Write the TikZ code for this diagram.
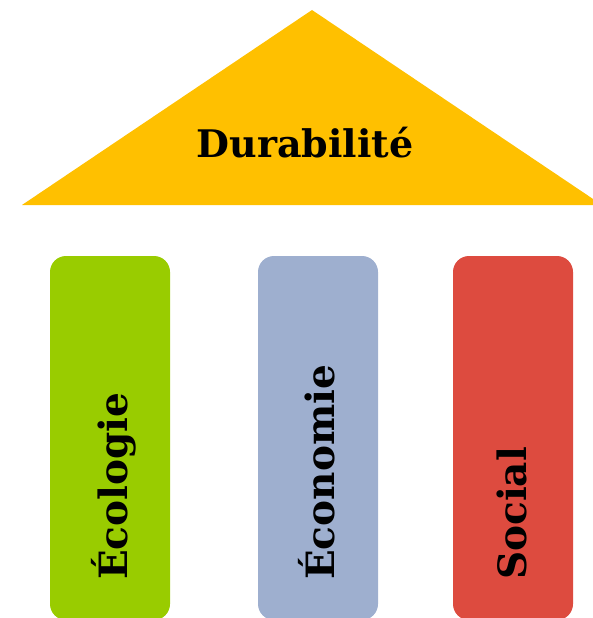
\documentclass[tikz,border=0pt]{standalone}
\usepackage{fontspec}
\setmainfont{DejaVu Serif}
\definecolor{roofc}{HTML}{FFC000}
\definecolor{ecoc}{HTML}{99CC00}
\definecolor{econc}{HTML}{9EAFCF}
\definecolor{socc}{HTML}{DD4B3F}
\tikzset{
  pillar/.style={draw=none, rounded corners=16pt, minimum width=120pt, minimum height=364pt, inner sep=0pt},
  pillartext/.style={rotate=90, anchor=base west, inner sep=0pt, font=\fontsize{39}{46}\selectfont\bfseries},
  rooftext/.style={anchor=base, inner sep=0pt, font=\fontsize{38}{46}\selectfont\bfseries}
}
\begin{document}
\begin{tikzpicture}[x=1pt,y=-1pt]
\useasboundingbox (0,0) rectangle (593,618);
\clip (0,0) rectangle (593,618);
\coordinate (apex) at (312,10);
\coordinate (bl) at (22,205);
\coordinate (br) at (602,205);
\fill[roofc] (apex) -- (br) -- (bl) -- cycle;
\node[rooftext] (dur) at (305,157) {Durabilité};
\node[pillar, fill=ecoc] (eco) at (110,438) {};
\node[pillar, fill=econc] (econ) at (318,438) {};
\node[pillar, fill=socc] (soc) at (513,438) {};
\node[pillartext] (ecot) at (127,580) {Écologie};
\node[pillartext] (econt) at (334,580) {Économie};
\node[pillartext] (soct) at (526,580) {Social};
\end{tikzpicture}
\end{document}
